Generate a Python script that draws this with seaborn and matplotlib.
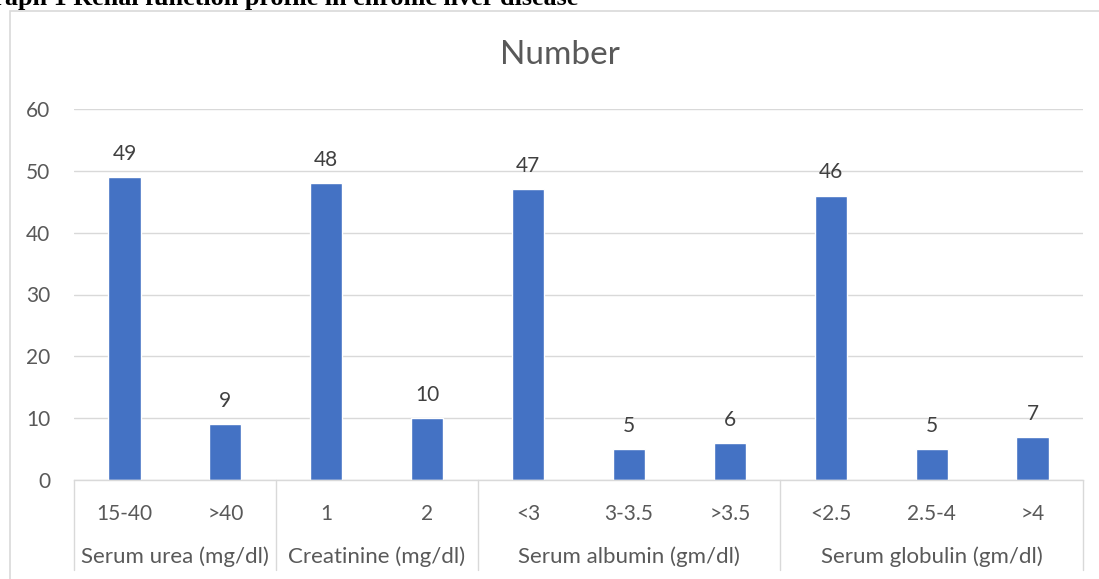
import pandas as pd
import matplotlib.pyplot as plt
import seaborn as sns
from matplotlib.patches import Rectangle

# dados do gráfico
grupos = ["Serum urea (mg/dl)", "Creatinine (mg/dl)", "Serum albumin (gm/dl)", "Serum globulin (gm/dl)"]
tamanhos_grupos = [2, 2, 3, 3]
categorias = ["15-40", ">40", "1", "2", "<3", "3-3.5", ">3.5", "<2.5", "2.5-4", ">4"]
numeros = [49, 9, 48, 10, 47, 5, 6, 46, 5, 7]
y_ticks = [0, 10, 20, 30, 40, 50, 60]

df = pd.DataFrame({"categoria": categorias, "numero": numeros})

sns.set_style("white")
plt.rcParams["font.family"] = ["Lato", "DejaVu Sans"]

fig = plt.figure(figsize=(10.99, 5.79), dpi=100)
W, H = 1099, 579
ax = fig.add_axes([74 / W, 99 / H, (1083 - 74) / W, (480 - 109) / H])

sns.barplot(data=df, x="categoria", y="numero", color="#4472C4", width=0.32,
            saturation=1, ax=ax)

ax.set_ylim(0, 60)
ax.set_xlim(-0.5, len(categorias) - 0.5)
ax.set_yticks(y_ticks)
ax.grid(axis="y", color="#D9D9D9", linewidth=1)
ax.set_axisbelow(True)
for lado in ["top", "right", "left"]:
    ax.spines[lado].set_visible(False)
ax.spines["bottom"].set_color("#D9D9D9")
ax.spines["bottom"].set_linewidth(1)
ax.tick_params(axis="both", length=0, labelsize=15, labelcolor="#595959")
ax.tick_params(axis="y", pad=17)
ax.tick_params(axis="x", pad=17)
ax.set_xlabel("")
ax.set_ylabel("")

ax.bar_label(ax.containers[0], padding=9.5, fontsize=15, color="#404040")

# separadores e nomes dos grupos
trans = ax.get_xaxis_transform()
fundo = -(570 - 480) / (480 - 109)
inicio = -0.5
ax.plot([inicio, inicio], [0, fundo], color="#D9D9D9", lw=1, transform=trans, clip_on=False)
for nome, n in zip(grupos, tamanhos_grupos):
    fim = inicio + n
    ax.plot([fim, fim], [0, fundo], color="#D9D9D9", lw=1, transform=trans, clip_on=False)
    ax.text((inicio + fim) / 2, -(557 - 480) / (480 - 109), nome, transform=trans,
            ha="center", va="center", fontsize=16, color="#595959")
    inicio = fim

fig.text(560 / W, 1 - 55 / H, "Number", ha="center", va="center",
         fontsize=24, color="#595959")

# borda do gráfico
fig.patches.append(Rectangle((10 / W, -0.1), 1.2, 1.1 - 11 / H, transform=fig.transFigure,
                             fill=False, edgecolor="#D9D9D9", linewidth=1.2))

fig.text(578 / W, 1 - 5 / H, "Graph 1 Renal function profile in chronic liver disease",
         ha="right", va="baseline", fontsize=18.8, fontweight="bold",
         family="Liberation Serif", color="black")

plt.savefig("out.png", dpi=100)
plt.close()
